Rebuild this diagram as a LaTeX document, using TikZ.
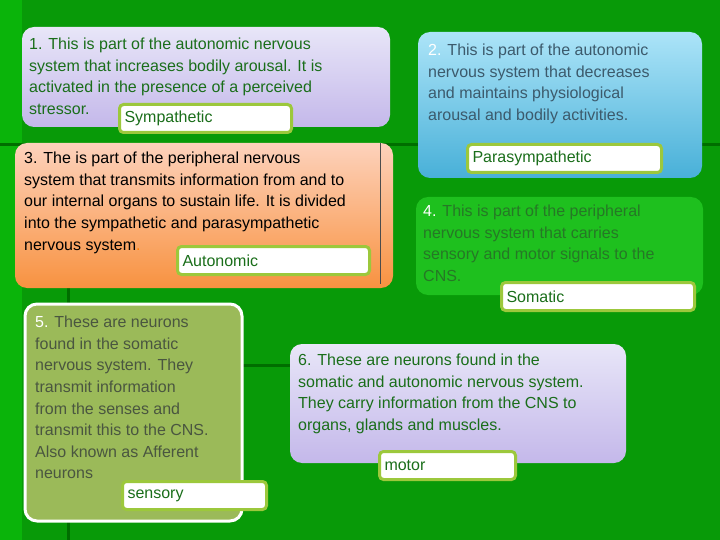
\documentclass[tikz,border=0pt]{standalone}
\usepackage{fontspec}
\setmainfont{Liberation Sans}
\begin{document}
\begin{tikzpicture}[x=1pt,y=-1pt,
  txt/.style={anchor=north west,align=left,inner sep=0pt,font=\fontsize{16}{21.6}\selectfont},
  ans/.style={draw=ansb,line width=3pt,fill=white,rounded corners=4pt,anchor=north west,
     minimum height=28pt,text=dkg,font=\fontsize{16}{19}\selectfont,inner xsep=5pt,align=left},
  card/.style={rounded corners=12pt}]
\definecolor{bg}{HTML}{089A08}
\definecolor{dkg}{HTML}{1A6E1A}
\definecolor{ansb}{HTML}{9CC83C}
\definecolor{bluet}{HTML}{3C5A6C}
\definecolor{olt}{HTML}{4A5640}
\definecolor{lavt}{RGB}{232,230,248}
\definecolor{lavb}{RGB}{196,184,234}
\definecolor{blut}{RGB}{172,228,248}
\definecolor{blub}{RGB}{72,176,216}
\definecolor{ort}{RGB}{253,210,188}
\definecolor{orb}{RGB}{248,146,64}
\definecolor{brg}{RGB}{30,192,30}
\definecolor{brgt}{RGB}{38,120,38}
\definecolor{olive}{RGB}{155,186,89}
\definecolor{strip}{RGB}{10,180,10}
\definecolor{line}{RGB}{0,110,0}
\useasboundingbox (0,0) rectangle (720,540);
\fill[bg] (0,0) rectangle (720,540);
\fill[strip] (0,0) rectangle (22,540);
\draw[line,line width=3pt] (0,145) -- (720,145);
\draw[line,line width=3pt] (68,280) -- (68,540);
\draw[line,line width=3pt] (240,365) -- (300,365);
% box 1
\shade[card,top color=lavt,bottom color=lavb] (22,27) rectangle (390,127);
\node[txt,text=dkg] (t1) at (29,38) {1. This is part of the autonomic nervous\\system that increases bodily arousal. It is\\activated in the presence of a perceived\\stressor.};
\node[ans,text width=162pt] (a1) at (118,103) {Sympathetic};
% box 2
\shade[card,top color=blut,bottom color=blub] (418,32) rectangle (702,178);
\node[txt,text=bluet] (t2) at (428,44) {\textcolor{white}{2.} This is part of the autonomic\\nervous system that decreases\\and maintains physiological\\arousal and bodily activities.};
\node[ans,text width=184pt] (a2) at (466,143) {Parasympathetic};
% box 3
\shade[card,top color=ort,bottom color=orb] (15,143) rectangle (393,288);
\draw[black!70,line width=0.8pt] (380,143) -- (380,284);
\node[txt,text=black] (t3) at (24,152) {3. The is part of the peripheral nervous\\system that transmits information from and to\\our internal organs to sustain life. It is divided\\into the sympathetic and parasympathetic\\nervous system\textcolor{orange}{.}};
\node[ans,text width=182pt] (a3) at (176,245) {Autonomic};
% box 4
\fill[card,brg] (416,197) rectangle (703,295);
\node[txt,text=brgt] (t4) at (423,205) {\textcolor{white}{4.} This is part of the peripheral\\nervous system that carries\\sensory and motor signals to the\\CNS.};
\node[ans,text width=183pt] (a4) at (500,281) {Somatic};
% box 5
\filldraw[card,draw=white,line width=3pt,fill=olive] (25,304) rectangle (242,521);
\node[txt,text=olt] (t5) at (35,316) {\textcolor{white}{5.} These are neurons\\found in the somatic\\nervous system. They\\transmit information\\from the senses and\\transmit this to the CNS.\\Also known as Afferent\\neurons};
\node[ans,text width=134pt] (a5) at (121,480) {sensory};
% box 6
\shade[card,top color=lavt,bottom color=lavb] (290,344) rectangle (626,463);
\node[txt,text=dkg] (t6) at (298,354) {6. These are neurons found in the\\somatic and autonomic nervous system.\\They carry information from the CNS to\\organs, glands and muscles.};
\node[ans,text width=126pt] (a6) at (378,450) {motor};
\end{tikzpicture}
\end{document}
